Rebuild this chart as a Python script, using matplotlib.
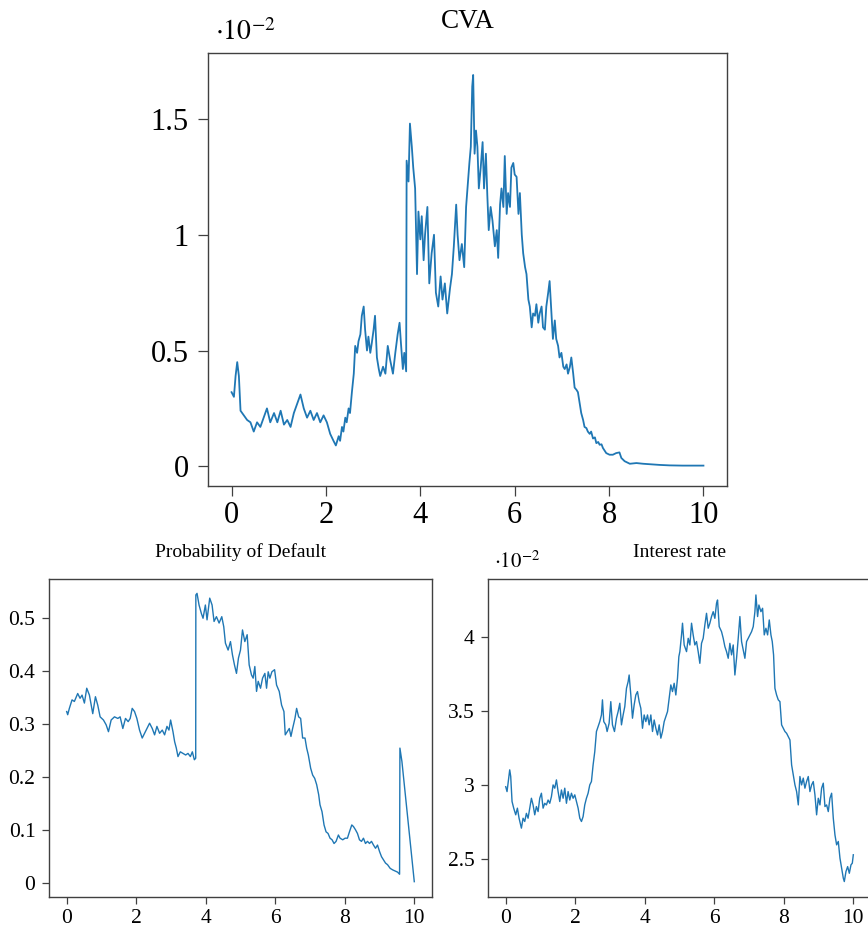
import matplotlib
matplotlib.use("Agg")
import matplotlib.pyplot as plt

# CVA (values in units of 1e-2)
cva_t = [0.00, 0.05, 0.085, 0.12, 0.155, 0.19, 0.26, 0.33, 0.40, 0.47,
         0.54, 0.61, 0.68, 0.75, 0.82, 0.90, 0.97, 1.04, 1.11, 1.18,
         1.25, 1.32, 1.39, 1.46, 1.53, 1.60, 1.67, 1.74, 1.81, 1.88,
         1.95, 2.02, 2.09, 2.16, 2.21, 2.27, 2.30, 2.34, 2.37, 2.41, 2.44,
         2.48, 2.51, 2.55,
         2.59, 2.62, 2.66, 2.69, 2.73, 2.76, 2.80, 2.83, 2.87, 2.90,
         2.94, 2.97, 3.01, 3.04, 3.08, 3.12, 3.15, 3.21, 3.26, 3.31,
         3.36, 3.42, 3.47, 3.52, 3.56, 3.59, 3.63, 3.66, 3.70, 3.71,
         3.75, 3.78, 3.82, 3.85, 3.89, 3.93, 3.96, 4.00, 4.03, 4.07,
         4.10, 4.15, 4.19, 4.24, 4.29, 4.33, 4.38, 4.43, 4.47, 4.52,
         4.57, 4.63, 4.67, 4.71, 4.76, 4.79, 4.83, 4.88, 4.93, 4.97,
         5.00, 5.04, 5.07, 5.10, 5.12, 5.15, 5.18, 5.21, 5.24, 5.28,
         5.32, 5.35, 5.39, 5.42, 5.45, 5.49, 5.53, 5.58, 5.62, 5.65,
         5.69, 5.72, 5.76, 5.79, 5.83, 5.86, 5.90, 5.93, 5.97, 6.00,
         6.04, 6.08, 6.11, 6.15, 6.18, 6.22, 6.25, 6.29, 6.32, 6.36,
         6.39, 6.43, 6.46, 6.50, 6.53, 6.57, 6.60, 6.64, 6.67, 6.71,
         6.74, 6.78, 6.81, 6.85, 6.88, 6.92, 6.95, 6.99, 7.03, 7.06,
         7.10, 7.13, 7.17, 7.20, 7.24, 7.27, 7.31, 7.34, 7.38, 7.41,
         7.45, 7.48, 7.52, 7.55, 7.59, 7.62, 7.66, 7.70, 7.73, 7.77,
         7.80, 7.84, 7.87, 7.94,
         8.01, 8.08, 8.15, 8.22, 8.26, 8.33, 8.44, 8.58, 8.72, 8.86,
         9.07, 9.28, 9.56, 10.0]
cva_v = [0.32, 0.30, 0.39, 0.45, 0.39, 0.24, 0.22, 0.20, 0.19, 0.15,
         0.19, 0.17, 0.21, 0.25, 0.19, 0.23, 0.19, 0.24, 0.18, 0.20,
         0.17, 0.23, 0.27, 0.31, 0.25, 0.21, 0.24, 0.20, 0.23, 0.19,
         0.22, 0.19, 0.14, 0.11, 0.09, 0.13, 0.11, 0.17, 0.15, 0.21, 0.19,
         0.25, 0.23, 0.32,
         0.40, 0.52, 0.49, 0.54, 0.57, 0.65, 0.69, 0.59, 0.50, 0.56,
         0.49, 0.53, 0.59, 0.65, 0.47, 0.42, 0.39, 0.43, 0.40, 0.52,
         0.46, 0.40, 0.49, 0.57, 0.62, 0.53, 0.42, 0.49, 0.41, 1.32,
         1.23, 1.48, 1.38, 1.29, 1.20, 0.83, 1.10, 0.98, 1.08, 0.89,
         1.00, 1.12, 0.79, 0.92, 1.00, 0.75, 0.69, 0.82, 0.72, 0.79,
         0.66, 0.77, 0.83, 0.95, 1.13, 1.00, 0.89, 0.96, 0.86, 1.12,
         1.20, 1.31, 1.38, 1.64, 1.69, 1.35, 1.45, 1.38, 1.20, 1.29,
         1.40, 1.20, 1.35, 1.17, 1.02, 1.12, 1.06, 0.95, 1.02, 0.90,
         1.13, 1.20, 1.12, 1.34, 1.09, 1.18, 1.12, 1.29, 1.31, 1.26,
         1.25, 1.09, 1.18, 1.00, 0.92, 0.86, 0.83, 0.72, 0.69, 0.60,
         0.66, 0.65, 0.70, 0.62, 0.66, 0.69, 0.60, 0.59, 0.69, 0.75,
         0.80, 0.66, 0.55, 0.63, 0.55, 0.52, 0.47, 0.49, 0.43, 0.42,
         0.44, 0.40, 0.43, 0.47, 0.40, 0.34, 0.33, 0.32, 0.27, 0.23,
         0.20, 0.17, 0.165, 0.15, 0.14, 0.15, 0.12, 0.125, 0.10, 0.105,
         0.093, 0.095, 0.079, 0.057,
         0.05, 0.05, 0.057, 0.06, 0.036, 0.022, 0.011, 0.014, 0.011, 0.009,
         0.006, 0.004, 0.003, 0.003]

# probability of default
pd_t = [0, 0.029, 0.077, 0.154, 0.221, 0.317, 0.385, 0.442, 0.51, 0.577,
        0.654, 0.75, 0.827, 0.894, 0.962, 1.058, 1.135, 1.202, 1.279, 1.375,
        1.471, 1.538, 1.615, 1.692, 1.769, 1.827, 1.885, 1.952, 2.019, 2.096,
        2.173, 2.240, 2.308, 2.385, 2.462, 2.529, 2.596, 2.673, 2.75, 2.817,
        2.885, 2.942, 2.99, 3.058, 3.106, 3.154, 3.202, 3.269, 3.346, 3.423,
        3.49, 3.558, 3.615, 3.673, 3.712, 3.716, 3.75, 3.808, 3.875, 3.923,
        3.99, 4.038, 4.115, 4.183, 4.240, 4.308, 4.385, 4.462, 4.519, 4.567,
        4.644, 4.712, 4.769, 4.827, 4.885, 4.942, 5.0, 5.058, 5.125, 5.192,
        5.25, 5.317, 5.365, 5.413, 5.462, 5.51, 5.577, 5.635, 5.702, 5.75,
        5.798, 5.846, 5.904, 5.981, 6.038, 6.115, 6.183, 6.25, 6.288, 6.346,
        6.404, 6.452, 6.5, 6.567, 6.615, 6.673, 6.731, 6.788, 6.856, 6.904,
        6.952, 7.019, 7.077, 7.135, 7.192, 7.25, 7.288, 7.346, 7.404, 7.462,
        7.519, 7.577, 7.635, 7.692, 7.75, 7.817, 7.865, 7.942, 8.01, 8.077,
        8.135, 8.202, 8.25, 8.308, 8.365, 8.423, 8.481, 8.538, 8.596, 8.654,
        8.712, 8.769, 8.827, 8.885, 8.942, 9.0, 9.058, 9.115, 9.173, 9.231,
        9.308, 9.385, 9.452, 9.519, 9.577, 9.587, 9.644, 10.0]
pd_v = [0.324, 0.318, 0.33, 0.346, 0.343, 0.358, 0.349, 0.355, 0.34, 0.368,
        0.355, 0.32, 0.352, 0.336, 0.314, 0.308, 0.299, 0.286, 0.308, 0.314,
        0.311, 0.314, 0.292, 0.311, 0.305, 0.311, 0.33, 0.324, 0.311, 0.289,
        0.274, 0.283, 0.292, 0.302, 0.292, 0.28, 0.296, 0.283, 0.289, 0.28,
        0.296, 0.289, 0.308, 0.286, 0.267, 0.255, 0.239, 0.248, 0.245, 0.242,
        0.245, 0.239, 0.248, 0.233, 0.236, 0.544, 0.547, 0.525, 0.509, 0.50,
        0.525, 0.497, 0.538, 0.525, 0.494, 0.503, 0.491, 0.503, 0.484, 0.453,
        0.44, 0.456, 0.431, 0.412, 0.396, 0.425, 0.44, 0.478, 0.456, 0.469,
        0.412, 0.393, 0.387, 0.409, 0.362, 0.381, 0.368, 0.387, 0.396, 0.368,
        0.399, 0.387, 0.399, 0.403, 0.374, 0.362, 0.336, 0.324, 0.28, 0.286,
        0.292, 0.277, 0.292, 0.311, 0.33, 0.314, 0.311, 0.274, 0.274, 0.255,
        0.242, 0.217, 0.204, 0.198, 0.186, 0.167, 0.148, 0.135, 0.11, 0.097,
        0.094, 0.085, 0.082, 0.075, 0.079, 0.091, 0.085, 0.082, 0.085, 0.085,
        0.097, 0.11, 0.107, 0.101, 0.094, 0.082, 0.079, 0.085, 0.075, 0.079,
        0.075, 0.079, 0.072, 0.066, 0.072, 0.06, 0.05, 0.044, 0.038, 0.035,
        0.028, 0.025, 0.023, 0.021, 0.017, 0.255, 0.23, 0.003]

# interest rate (units of 1e-2)
ir_t = [0, 0.038, 0.067, 0.115, 0.144, 0.182, 0.23, 0.288, 0.336, 0.384,
        0.451, 0.499, 0.547, 0.595, 0.643, 0.691, 0.739, 0.787, 0.835, 0.883,
        0.931, 0.979, 1.027, 1.075, 1.123, 1.171, 1.219, 1.267, 1.315, 1.363,
        1.411, 1.459, 1.507, 1.555, 1.603, 1.651, 1.699, 1.747, 1.795, 1.843,
        1.891, 1.939, 1.987, 2.035, 2.083, 2.131, 2.179, 2.226, 2.274, 2.322,
        2.370, 2.418, 2.466, 2.514, 2.562, 2.610, 2.658, 2.706, 2.754, 2.783,
        2.821, 2.879, 2.917, 2.975, 3.023, 3.071, 3.129, 3.186, 3.234, 3.282,
        3.330, 3.378, 3.426, 3.474, 3.522, 3.551, 3.599, 3.647, 3.695, 3.743,
        3.791, 3.839, 3.887, 3.935, 3.983, 4.031, 4.079, 4.127, 4.175, 4.223,
        4.271, 4.319, 4.367, 4.415, 4.463, 4.511, 4.559, 4.607, 4.655, 4.702,
        4.750, 4.798, 4.846, 4.894, 4.942, 4.981, 5.010, 5.058, 5.086, 5.134,
        5.202, 5.250, 5.298, 5.346, 5.393, 5.441, 5.489, 5.537, 5.585, 5.633,
        5.681, 5.729, 5.777, 5.825, 5.873, 5.921, 5.969, 6.017, 6.065, 6.094,
        6.142, 6.209, 6.257, 6.305, 6.353, 6.401, 6.449, 6.497, 6.545, 6.593,
        6.641, 6.689, 6.737, 6.785, 6.833, 6.881, 6.929, 6.977, 7.025, 7.073,
        7.121, 7.169, 7.198, 7.246, 7.284, 7.342, 7.390, 7.438, 7.486, 7.534,
        7.582, 7.630, 7.668, 7.706, 7.745, 7.793, 7.841, 7.889, 7.937, 7.985,
        8.033, 8.081, 8.129, 8.177, 8.225, 8.273, 8.321, 8.369, 8.417, 8.464,
        8.512, 8.560, 8.608, 8.656, 8.704, 8.752, 8.800, 8.848, 8.896, 8.944,
        8.992, 9.040, 9.088, 9.136, 9.184, 9.232, 9.280, 9.328, 9.376, 9.424,
        9.472, 9.520, 9.568, 9.616, 9.664, 9.712, 9.741, 9.789, 9.837, 9.885,
        9.933, 9.971, 10.0]
ir_v = [2.99, 2.957, 3.014, 3.104, 3.059, 2.89, 2.845, 2.80, 2.845, 2.777,
        2.71, 2.777, 2.755, 2.81, 2.777, 2.845, 2.912, 2.867, 2.80, 2.856,
        2.822, 2.912, 2.946, 2.845, 2.878, 2.867, 2.90, 2.878, 2.923, 3.002,
        2.98, 3.036, 2.957, 2.89, 2.968, 2.912, 2.98, 2.878, 2.957, 2.90,
        2.946, 2.912, 2.935, 2.89, 2.845, 2.777, 2.755, 2.788, 2.867, 2.912,
        2.946, 3.002, 3.025, 3.137, 3.227, 3.363, 3.396, 3.43, 3.475, 3.577,
        3.43, 3.408, 3.363, 3.419, 3.565, 3.408, 3.363, 3.453, 3.498, 3.554,
        3.408, 3.475, 3.532, 3.655, 3.70, 3.745, 3.61, 3.453, 3.543, 3.61,
        3.633, 3.565, 3.52, 3.385, 3.475, 3.43, 3.475, 3.408, 3.475, 3.363,
        3.441, 3.385, 3.34, 3.408, 3.318, 3.363, 3.43, 3.464, 3.498, 3.588,
        3.678, 3.633, 3.689, 3.61, 3.723, 3.869, 3.903, 4.016, 4.095, 3.948,
        3.903, 3.993, 3.948, 4.095, 4.016, 3.948, 3.971, 3.903, 3.824, 3.959,
        3.993, 4.083, 4.162, 4.061, 4.095, 4.14, 4.173, 4.128, 4.23, 4.252,
        4.072, 4.038, 3.993, 3.937, 3.903, 3.858, 3.959, 3.881, 3.948, 3.745,
        3.858, 3.993, 4.14, 3.971, 3.914, 3.858, 3.971, 3.993, 4.016, 4.038,
        4.072, 4.173, 4.286, 4.14, 4.218, 4.173, 4.196, 4.016, 4.061, 4.016,
        4.117, 4.016, 3.971, 3.881, 3.655, 3.61, 3.577, 3.565, 3.408, 3.385,
        3.363, 3.351, 3.329, 3.306, 3.137, 3.07, 3.002, 2.957, 2.867, 3.059,
        3.002, 3.048, 2.98, 3.025, 3.059, 2.957, 3.002, 3.025, 2.935, 2.80,
        2.912, 2.867, 2.98, 3.014, 2.856, 2.867, 2.822, 2.912, 2.946, 2.777,
        2.664, 2.597, 2.62, 2.507, 2.439, 2.372, 2.349, 2.417, 2.45, 2.405,
        2.462, 2.473, 2.53]

x_ticks = [0, 2, 4, 6, 8, 10]
cva_ticks = [0, 0.5, 1, 1.5]
cva_labels = ['0', '0.5', '1', '1.5']
pd_ticks = [0, 0.1, 0.2, 0.3, 0.4, 0.5]
pd_labels = ['0', '0.1', '0.2', '0.3', '0.4', '0.5']
ir_ticks = [2.5, 3, 3.5, 4]
ir_labels = ['2.5', '3', '3.5', '4']

plt.rcParams['font.family'] = ['Liberation Serif', 'DejaVu Serif']
plt.rcParams['mathtext.fontset'] = 'stix'

blue = '#1f77b4'
edge = '#404040'


def style(ax, size, ticklen, ypad):
    for s in ax.spines.values():
        s.set_color(edge)
        s.set_linewidth(1.0)
    ax.tick_params(direction='out', length=ticklen, width=0.9, color=edge,
                   labelsize=size, top=False, right=False, pad=4)
    ax.tick_params(axis='y', pad=ypad)
    ax.set_xticks(x_ticks)
    ax.set_xticklabels([str(v) for v in x_ticks])
    ax.set_xlim(-0.5, 10.5)


fig = plt.figure(figsize=(8.68, 9.31), dpi=100)

ax1 = fig.add_axes([0.2396, 0.478, 0.598, 0.4651])
ax1.plot(cva_t, cva_v, color=blue, lw=1.3)
style(ax1, 22, 7, 7)
ax1.set_ylim(-0.085, 1.785)
ax1.set_yticks(cva_ticks)
ax1.set_yticklabels(cva_labels)
ax1.set_title('CVA', fontsize=19.5, pad=18)
ax1.text(0.013, 1.03, r'$\cdot 10^{-2}$', transform=ax1.transAxes,
         fontsize=20, ha='left', va='baseline')

ax2 = fig.add_axes([0.0568, 0.0369, 0.4405, 0.3409])
ax2.plot(pd_t, pd_v, color=blue, lw=1.0)
style(ax2, 15.5, 5, 5)
ax2.set_ylim(-0.0253, 0.5736)
ax2.set_yticks(pd_ticks)
ax2.set_yticklabels(pd_labels)
ax2.set_title('Probability of Default', fontsize=14, pad=16)

ax3 = fig.add_axes([0.5626, 0.0369, 0.4405, 0.3409])
ax3.plot(ir_t, ir_v, color=blue, lw=1.0)
style(ax3, 15.5, 5, 5)
ax3.set_ylim(2.247, 4.392)
ax3.set_yticks(ir_ticks)
ax3.set_yticklabels(ir_labels)
ax3.set_title('Interest rate', fontsize=14, pad=16)
ax3.text(0.015, 1.035, r'$\cdot 10^{-2}$', transform=ax3.transAxes,
         fontsize=15, ha='left', va='baseline')

fig.savefig('out.png', dpi=100)
